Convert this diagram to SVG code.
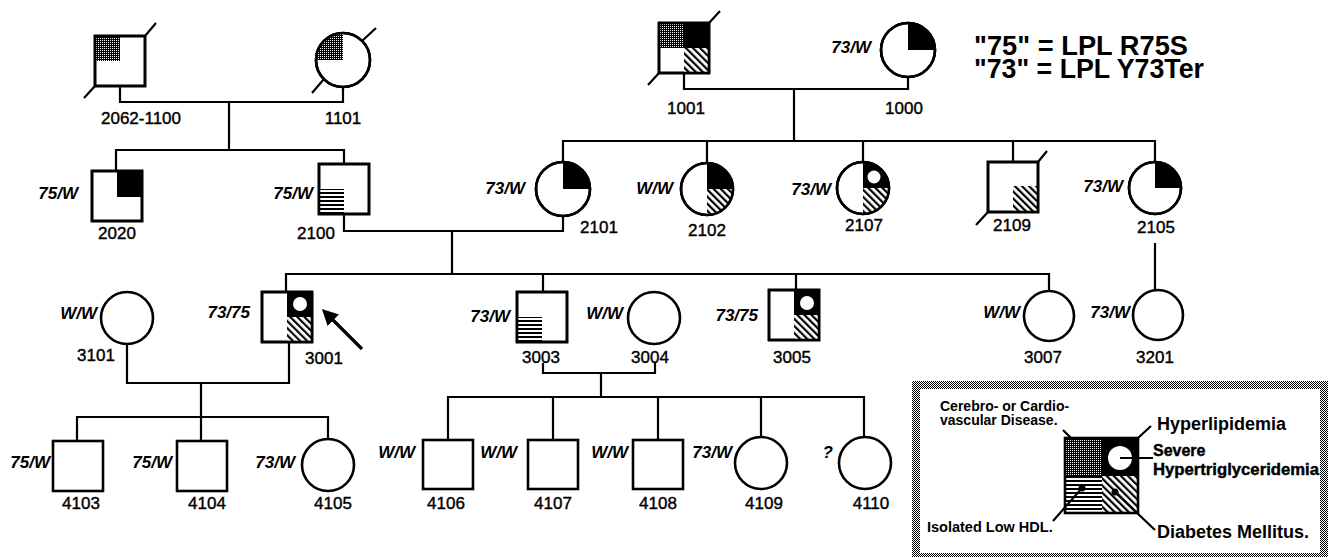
<svg xmlns="http://www.w3.org/2000/svg" width="1328" height="557" viewBox="0 0 1328 557">
<defs>
<pattern id="stip" width="2" height="2" patternUnits="userSpaceOnUse"><rect width="2" height="2" fill="#fff"/><rect width="1" height="1" fill="#000"/><rect x="1" y="1" width="1" height="1" fill="#000"/></pattern>
<pattern id="dstip" width="2" height="2" patternUnits="userSpaceOnUse"><rect width="2" height="2" fill="#000"/><rect width="1" height="1" fill="#fff"/></pattern>
<pattern id="hatch" width="5" height="5" patternUnits="userSpaceOnUse" patternTransform="rotate(-45)"><rect width="5" height="5" fill="#fff"/><rect width="2.2" height="5" fill="#000"/></pattern>
<pattern id="hstripe" width="4" height="4" patternUnits="userSpaceOnUse"><rect width="4" height="4" fill="#fff"/><rect width="4" height="2" fill="#000"/></pattern>
<marker id="ah" viewBox="0 0 10 10" refX="2" refY="5" markerWidth="5" markerHeight="5" orient="auto" markerUnits="strokeWidth"><path d="M0,0 L10,5 L0,10 z" fill="#000"/></marker>
</defs>
<style>
.s{fill:#fff;stroke:#000;stroke-width:2.6}
.o{fill:none;stroke:#000;stroke-width:2.6}
.ln{fill:none;stroke:#000;stroke-width:2.2}
.bk{fill:#000}
.wh{fill:#fff}
.st{fill:url(#dstip)}
.bd{fill:url(#stip)}
.ht{fill:url(#hatch)}
.hs{fill:url(#hstripe)}
.id{font-family:"Liberation Sans",Arial,sans-serif;font-size:17px;text-anchor:middle;fill:#000;stroke:#000;stroke-width:0.4}
.gt{font-family:"Liberation Sans",Arial,sans-serif;font-size:17px;font-style:italic;font-weight:bold;text-anchor:end;fill:#000}
.tt{font-family:"Liberation Sans",Arial,sans-serif;font-size:27px;font-weight:bold;fill:#000}
.lg{font-family:"Liberation Sans",Arial,sans-serif;font-weight:bold;fill:#000}
</style>
<rect width="1328" height="557" fill="#fff"/>

<g id="connectors" class="ln">
<path d="M120,86 V102 H343 V87"/>
<path d="M229,102 V150"/>
<path d="M116,171 V150 H344 V164"/>
<path d="M684,73 V89 H908 V77"/>
<path d="M794,89 V141"/>
<path d="M563,162 V141 H1155 V162"/>
<path d="M707,141 V163"/>
<path d="M863,141 V162"/>
<path d="M1013,141 V162"/>
<path d="M344,214 V231 H563 V216"/>
<path d="M452,231 V274"/>
<path d="M286,292 V274 H1049 V291"/>
<path d="M543,274 V292"/>
<path d="M796,274 V290"/>
<path d="M1155,243 V290"/>
<path d="M127,344 V383 H289 V342"/>
<path d="M201,383 V441"/>
<path d="M77,441 V417 H328 V439"/>
<path d="M543,363 V373 H655 V363"/>
<path d="M601,373 V397"/>
<path d="M448,440 V397 H864 V437"/>
<path d="M553,397 V440"/>
<path d="M658,397 V440"/>
<path d="M761,397 V437"/>
<path d="M362,349 L331,318" stroke-width="3.2" marker-end="url(#ah)"/>
</g>

<g id="n2062-1100">
<rect class="s" x="95" y="36" width="50" height="50"/>
<rect class="st" x="95" y="36" width="25" height="25"/>
<rect class="o" x="95" y="36" width="50" height="50"/>
<path class="ln" d="M145,36 L156,23 M95,86 L84,98"/>
<text class="id" x="141" y="124">2062-1100</text>
</g>
<g id="n1101">
<circle class="s" cx="343" cy="60" r="27"/>
<path class="st" d="M343 60 H316 A27 27 0 0 1 343 33 Z"/>
<circle class="o" cx="343" cy="60" r="27"/>
<path class="ln" d="M362,41 L376,28 M324,79 L312,93"/>
<text class="id" x="343" y="124">1101</text>
</g>
<g id="n1001">
<rect class="s" x="659" y="23" width="50" height="50"/>
<rect class="st" x="659" y="23" width="25" height="25"/>
<rect class="bk" x="684" y="23" width="25" height="25"/>
<rect class="ht" x="684" y="48" width="25" height="25"/>
<rect class="o" x="659" y="23" width="50" height="50"/>
<path class="ln" d="M709,23 L720,11 M659,73 L648,85"/>
<text class="id" x="686" y="114">1001</text>
</g>
<g id="n1000">
<circle class="s" cx="908" cy="50" r="27"/>
<path class="bk" d="M908 50 V23 A27 27 0 0 1 935 50 Z"/>
<circle class="o" cx="908" cy="50" r="27"/>
<text class="gt" x="871" y="53">73/W</text>
<text class="id" x="904" y="114">1000</text>
</g>
<g id="title">
<text class="tt" x="974" y="55" textLength="214" lengthAdjust="spacingAndGlyphs">"75" = LPL R75S</text>
<text class="tt" x="974" y="78" textLength="230" lengthAdjust="spacingAndGlyphs">"73" = LPL Y73Ter</text>
</g>

<g id="n2020">
<rect class="s" x="92" y="171" width="50" height="50"/>
<rect class="bk" x="117" y="171" width="25" height="26"/>
<rect class="o" x="92" y="171" width="50" height="50"/>
<text class="gt" x="78" y="199">75/W</text>
<text class="id" x="117" y="239">2020</text>
</g>
<g id="n2100">
<rect class="s" x="319" y="164" width="50" height="50"/>
<rect class="hs" x="319" y="189" width="25" height="25"/>
<rect class="o" x="319" y="164" width="50" height="50"/>
<text class="gt" x="313" y="199">75/W</text>
<text class="id" x="316" y="239">2100</text>
</g>
<g id="n2101">
<circle class="s" cx="563" cy="189" r="27"/>
<path class="bk" d="M563 189 V162 A27 27 0 0 1 590 189 Z"/>
<circle class="o" cx="563" cy="189" r="27"/>
<text class="gt" x="525" y="194">73/W</text>
<text class="id" x="599" y="233">2101</text>
</g>
<g id="n2102">
<circle class="s" cx="707" cy="189" r="26"/>
<path class="bk" d="M707 189 V163 A26 26 0 0 1 733 189 Z"/>
<path class="ht" d="M707 189 H733 A26 26 0 0 1 707 215 Z"/>
<circle class="o" cx="707" cy="189" r="26"/>
<text class="gt" x="673" y="194">W/W</text>
<text class="id" x="707" y="236">2102</text>
</g>
<g id="n2107">
<circle class="s" cx="863" cy="188" r="26"/>
<path class="bk" d="M863 188 V162 A26 26 0 0 1 889 188 Z"/>
<circle class="wh" cx="874" cy="177" r="6.5"/>
<path class="ht" d="M863 188 H889 A26 26 0 0 1 863 214 Z"/>
<circle class="o" cx="863" cy="188" r="26"/>
<text class="gt" x="831" y="195">73/W</text>
<text class="id" x="864" y="231">2107</text>
</g>
<g id="n2109">
<rect class="s" x="988" y="162" width="50" height="50"/>
<rect class="ht" x="1013" y="186" width="25" height="26"/>
<rect class="o" x="988" y="162" width="50" height="50"/>
<path class="ln" d="M1038,162 L1047,151 M988,212 L976,225"/>
<text class="id" x="1012" y="231">2109</text>
</g>
<g id="n2105">
<circle class="s" cx="1155" cy="188" r="26"/>
<path class="bk" d="M1155 188 V162 A26 26 0 0 1 1181 188 Z"/>
<circle class="o" cx="1155" cy="188" r="26"/>
<text class="gt" x="1123" y="192">73/W</text>
<text class="id" x="1156" y="233">2105</text>
</g>

<g id="n3101">
<circle class="s" cx="127" cy="318" r="26"/>
<text class="gt" x="97" y="319">W/W</text>
<text class="id" x="96" y="361">3101</text>
</g>
<g id="n3001">
<rect class="s" x="262" y="292" width="50" height="50"/>
<rect class="bk" x="287" y="292" width="25" height="25"/>
<circle class="wh" cx="300" cy="304" r="7"/>
<rect class="ht" x="287" y="317" width="25" height="25"/>
<rect class="o" x="262" y="292" width="50" height="50"/>
<text class="gt" x="250" y="318">73/75</text>
<text class="id" x="324" y="364">3001</text>
</g>
<g id="n3003">
<rect class="s" x="517" y="292" width="50" height="50"/>
<rect class="hs" x="517" y="317" width="25" height="25"/>
<rect class="o" x="517" y="292" width="50" height="50"/>
<text class="gt" x="510" y="322">73/W</text>
<text class="id" x="541" y="363">3003</text>
</g>
<g id="n3004">
<circle class="s" cx="654" cy="318" r="26"/>
<text class="gt" x="623" y="319">W/W</text>
<text class="id" x="650" y="363">3004</text>
</g>
<g id="n3005">
<rect class="s" x="769" y="290" width="50" height="50"/>
<rect class="bk" x="794" y="290" width="25" height="25"/>
<circle class="wh" cx="807" cy="303" r="7"/>
<rect class="ht" x="794" y="315" width="25" height="25"/>
<rect class="o" x="769" y="290" width="50" height="50"/>
<text class="gt" x="758" y="321">73/75</text>
<text class="id" x="792" y="363">3005</text>
</g>
<g id="n3007">
<circle class="s" cx="1049" cy="316" r="25"/>
<text class="gt" x="1020" y="318">W/W</text>
<text class="id" x="1043" y="363">3007</text>
</g>
<g id="n3201">
<circle class="s" cx="1158" cy="315" r="25"/>
<text class="gt" x="1130" y="318">73/W</text>
<text class="id" x="1155" y="363">3201</text>
</g>

<g id="n4103">
<rect class="s" x="53" y="441" width="50" height="50"/>
<text class="gt" x="50" y="468">75/W</text>
<text class="id" x="81" y="509">4103</text>
</g>
<g id="n4104">
<rect class="s" x="177" y="441" width="50" height="50"/>
<text class="gt" x="172" y="468">75/W</text>
<text class="id" x="207" y="509">4104</text>
</g>
<g id="n4105">
<circle class="s" cx="328" cy="465" r="26"/>
<text class="gt" x="295" y="468">73/W</text>
<text class="id" x="333" y="509">4105</text>
</g>
<g id="n4106">
<rect class="s" x="423" y="440" width="50" height="49"/>
<text class="gt" x="415" y="458">W/W</text>
<text class="id" x="446" y="509">4106</text>
</g>
<g id="n4107">
<rect class="s" x="528" y="440" width="50" height="49"/>
<text class="gt" x="517" y="458">W/W</text>
<text class="id" x="553" y="509">4107</text>
</g>
<g id="n4108">
<rect class="s" x="633" y="440" width="50" height="49"/>
<text class="gt" x="628" y="458">W/W</text>
<text class="id" x="658" y="509">4108</text>
</g>
<g id="n4109">
<circle class="s" cx="761" cy="463" r="26"/>
<text class="gt" x="732" y="458">73/W</text>
<text class="id" x="764" y="509">4109</text>
</g>
<g id="n4110">
<circle class="s" cx="865" cy="463" r="26"/>
<text class="gt" x="833" y="458">?</text>
<text class="id" x="871" y="509">4110</text>
</g>

<g id="legend">
<rect class="bd" x="912" y="381" width="416" height="176"/>
<rect fill="#fff" x="920" y="389" width="400" height="164"/>
<rect class="st" x="1065" y="438" width="37" height="38"/>
<rect class="bk" x="1102" y="438" width="36" height="38"/>
<circle class="wh" cx="1120" cy="458" r="12"/>
<rect class="hs" x="1065" y="476" width="37" height="37"/>
<rect class="ht" x="1102" y="476" width="36" height="37"/>
<rect class="o" x="1065" y="438" width="73" height="75"/>
<circle class="bk" cx="1082" cy="488" r="3.5"/>
<circle class="bk" cx="1115" cy="492" r="3.5"/>
<path class="ln" d="M1063,430 L1073,440 M1138,438 L1151,426 M1120,458 H1153 M1082,488 L1053,521 M1115,492 L1155,530"/>
<text class="lg" x="940" y="411" font-size="14">Cerebro- or Cardio-</text>
<text class="lg" x="940" y="425" font-size="14">vascular Disease.</text>
<text class="lg" x="1157" y="430" font-size="18">Hyperlipidemia</text>
<text class="lg" x="1153" y="456" font-size="16" font-weight="normal" stroke="#000" stroke-width="0.4">Severe</text>
<text class="lg" x="1153" y="475" font-size="16" font-weight="normal" stroke="#000" stroke-width="0.4" textLength="166" lengthAdjust="spacingAndGlyphs">Hypertriglyceridemia</text>
<text class="lg" x="927" y="532" font-size="14.5">Isolated Low HDL.</text>
<text class="lg" x="1157" y="538" font-size="18">Diabetes Mellitus.</text>
</g>
</svg>
